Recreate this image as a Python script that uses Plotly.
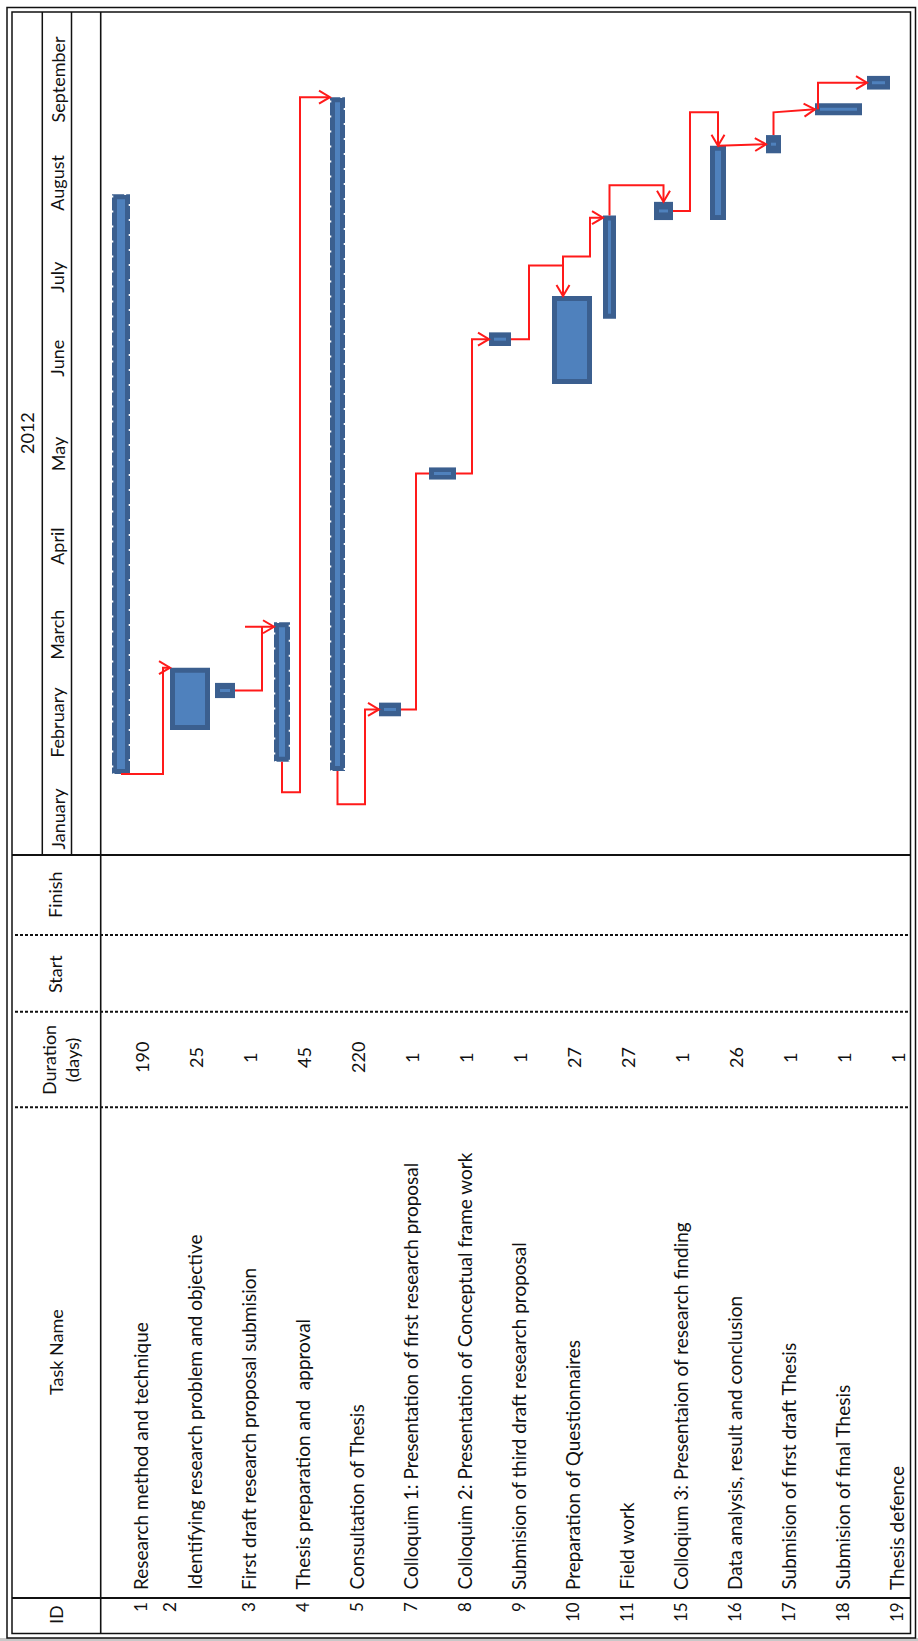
import plotly.graph_objects as go

# ------------------------------------------------------------------ data
task_ids = ["1", "2", "3", "4", "5", "7", "8", "9", "10", "11", "15", "16", "17", "18", "19"]
task_names = [
    "Research method and technique",
    "Identifying research problem and objective",
    "First draft research proposal submision",
    "Thesis preparation and  approval",
    "Consultation of Thesis",
    "Colloquim 1: Presentation of first research proposal",
    "Colloquim 2: Presentation of Conceptual frame work",
    "Submision of third draft research proposal",
    "Preparation of Questionnaires",
    "Field work",
    "Colloqium 3: Presentaion of research finding",
    "Data analysis, result and conclusion",
    "Submision of first draft Thesis",
    "Submision of final Thesis",
    "Thesis defence",
]
durations = [190, 25, 1, 45, 220, 1, 1, 1, 27, 27, 1, 26, 1, 1, 1]
# day of year 2012 (as drawn)
start_day = [30, 44.5, 55, 34, 31, 49, 127, 171, 158.5, 180, 212.5, 212.5, 234.5, 247, 255.5]
end_day = [221, 65, 60, 80, 253, 53.5, 131, 175.5, 187.5, 214, 218.5, 237, 240.5, 251, 260]

year_label = "2012"
month_names = ["January", "February", "March", "April", "May", "June", "July", "August", "September"]
month_mid_day = [15.5, 47, 76, 105, 135.5, 167, 194, 225, 259]

header_labels = ["Finish", "Start", "Duration<br>(days)", "Task Name", "ID"]

# ------------------------------------------------------------------ style / layout
W, H = 918, 1641
ROW0, ROWP = 140.0, 54.0          # pixel x of first row, row pitch
DAY0, PXD = 865.0, 3.035          # pixel y of day 0, pixels per day
bar_w_px = [18, 40, 20, 16, 15, 22, 27, 22, 40, 13, 19, 16, 15, 47, 23]
bar_off_px = [-19, -4, -23, -20, -18.5, -20, -21.5, -18, 0, -16.5, -16.5, -16, -14.5, -3.5, -17.5]
DARK = "#3B5F8F"
LIGHT = "#4F81BD"
RED = "#FF1A1A"
FONT = "Lato"
TXT = "#111111"


def ux(px):
    return (px - ROW0) / ROWP


def px_of_day(d):
    return DAY0 - PXD * d


def py(p):  # pixel y -> paper
    return 1 - p / H


def pxp(p):  # pixel x -> paper
    return p / W


n = len(task_ids)
C = [ROW0 + ROWP * i + bar_off_px[i] for i in range(n)]
L = [C[i] - bar_w_px[i] / 2 for i in range(n)]
R = [C[i] + bar_w_px[i] / 2 for i in range(n)]
S = start_day
E = end_day
M = [(S[i] + E[i]) / 2 for i in range(n)]

fig = go.Figure()
shapes = []

# ------------------------------------------------------------------ table frame
def pline(x0, y0, x1, y1, width=1.5, dash=None, color="#111111"):
    d = dict(type="line", xref="paper", yref="paper",
             x0=pxp(x0), y0=py(y0), x1=pxp(x1), y1=py(y1),
             line=dict(color=color, width=width), layer="above")
    if dash:
        d["line"]["dash"] = dash
    shapes.append(d)


shapes.append(dict(type="rect", xref="paper", yref="paper", x0=0, x1=1,
                   y0=py(1641), y1=py(1638), fillcolor="#c8c8c8", line=dict(width=0), layer="below"))
for (a, b, c, d) in [(7, 7.5, 915.5, 1638), (12, 12, 910.5, 1633.5)]:
    shapes.append(dict(type="rect", xref="paper", yref="paper",
                       x0=pxp(a), y0=py(d), x1=pxp(c), y1=py(b),
                       line=dict(color="#111111", width=1.5), layer="above"))
pline(42.3, 12, 42.3, 855)
pline(71.5, 12, 71.5, 855)
pline(100.7, 12, 100.7, 1633.5, width=1.6)
pline(12, 855, 910.5, 855, width=1.8)
pline(12, 1598, 910.5, 1598, width=2)
for yy in [935, 1011.7, 1107.3]:
    pline(15, yy, 910, yy, width=2, dash="3px,2px")

# ------------------------------------------------------------------ bars
for i in range(n):
    w = bar_w_px[i]
    hpx = (E[i] - S[i]) * PXD
    shapes.append(dict(type="rect", xref="x", yref="y",
                       x0=ux(L[i]), x1=ux(R[i]), y0=S[i], y1=E[i],
                       fillcolor=DARK, line=dict(width=0), layer="below"))
    ix = 5 if w > 12 else 4
    iy = 5 if hpx > 40 else (hpx - 3) / 2
    iy_d = iy / PXD
    shapes.append(dict(type="rect", xref="x", yref="y",
                       x0=ux(L[i] + ix), x1=ux(R[i] - ix),
                       y0=S[i] + iy_d, y1=E[i] - iy_d,
                       fillcolor=LIGHT, line=dict(width=0), layer="below"))
    if hpx > 100 and w < 20 and i not in (9, 11):
        shapes.append(dict(type="rect", xref="x", yref="y",
                           x0=ux(L[i] + 0.5), x1=ux(R[i] - 0.5), y0=S[i], y1=E[i],
                           fillcolor="rgba(0,0,0,0)",
                           line=dict(color="white", width=1.6, dash="2px,13px"), layer="below"))

# ------------------------------------------------------------------ connectors (pixel x, day y)
routes = [
    ([(C[0], S[0]), (L[1] - 7, S[0]), (L[1] - 7, E[1]), (L[1], E[1])], True),
    ([(R[2], M[2]), (L[3] - 12, M[2]), (L[3] - 12, E[3] - 1.5)], False),
    ([(L[3] - 29, E[3] - 1.5), (L[3], E[3] - 1.5)], True),
    ([(C[3], S[3]), (C[3], S[3] - 10), (L[4] - 30, S[3] - 10), (L[4] - 30, E[4]), (L[4], E[4])], True),
    ([(C[4], S[4]), (C[4], S[4] - 11), (L[5] - 14, S[4] - 11), (L[5] - 14, M[5]), (L[5], M[5])], True),
    ([(R[5], M[5]), (L[6] - 13, M[5]), (L[6] - 13, M[6]), (L[6], M[6])], False),
    ([(R[6], M[6]), (L[7] - 17, M[6]), (L[7] - 17, M[7]), (L[7], M[7])], True),
    ([(R[7], M[7]), (R[7] + 18, M[7]), (R[7] + 18, E[8] + 10), (L[8] + 11, E[8] + 10), (L[8] + 11, E[8])], True),
    ([(L[8] + 11, E[8] + 10), (L[8] + 11, E[8] + 13), (L[9] - 13, E[8] + 13), (L[9] - 13, E[9] - 0.7), (L[9], E[9] - 0.7)], True),
    ([(C[9], E[9]), (C[9], E[9] + 10), (C[10], E[9] + 10), (C[10], E[10])], True),
    ([(R[10], M[10]), (R[10] + 17, M[10]), (R[10] + 17, E[11] + 11), (C[11], E[11] + 11), (C[11], E[11])], True),
    ([(C[11], E[11]), (L[12], M[12])], True),
    ([(C[12], E[12]), (C[12], E[12] + 7.5), (L[13], M[13])], True),
    ([(L[13] + 3, M[13]), (L[13] + 3, M[14]), (L[14], M[14])], True),
]

lx, ly, ax, ay = [], [], [], []
for pts, arrow in routes:
    for (xp, d) in pts:
        lx.append(ux(xp))
        ly.append(d)
    lx.append(None)
    ly.append(None)
    if arrow:
        (x1p, d1), (x2p, d2) = pts[-2], pts[-1]
        p1 = (x1p, px_of_day(d1))
        p2 = (x2p, px_of_day(d2))
        vx, vy = p2[0] - p1[0], p2[1] - p1[1]
        ln = (vx * vx + vy * vy) ** 0.5
        vx, vy = vx / ln, vy / ln
        nx, ny = -vy, vx
        A, B = 11, 6.5
        w1 = (p2[0] - A * vx + B * nx, p2[1] - A * vy + B * ny)
        w2 = (p2[0] - A * vx - B * nx, p2[1] - A * vy - B * ny)
        for q in (w1, p2, w2):
            ax.append(ux(q[0]))
            ay.append((DAY0 - q[1]) / PXD)
        ax.append(None)
        ay.append(None)

fig.add_trace(go.Scatter(x=lx, y=ly, mode="lines", line=dict(color=RED, width=2),
                         hoverinfo="skip", showlegend=False))
fig.add_trace(go.Scatter(x=ax, y=ay, mode="lines", line=dict(color=RED, width=2),
                         hoverinfo="skip", showlegend=False))

# ------------------------------------------------------------------ texts
ann = []


def font(sz):
    return dict(family=FONT, size=sz, color=TXT)


ann.append(dict(text=year_label, xref="paper", yref="paper", x=pxp(27), y=py(433),
                xanchor="center", yanchor="middle",
                textangle=-90, showarrow=False, font=font(18)))
for name, d in zip(month_names, month_mid_day):
    ann.append(dict(text=name, xref="paper", yref="y", x=pxp(57.5), y=d, textangle=-90,
                    xanchor="center", yanchor="middle",
                    showarrow=False, font=font(18)))

hdr_pos = [(55, 895), (55, 974), (60, 1060), (56, 1352), (56, 1615)]
for t, (hx, hy) in zip(header_labels, hdr_pos):
    ann.append(dict(text=t, xref="paper", yref="paper", x=pxp(hx), y=py(hy), textangle=-90,
                    xanchor="center", yanchor="middle",
                    showarrow=False, align="center", font=font(18)))

for i in range(n):
    ann.append(dict(text=task_names[i], xref="x", yref="paper", x=i, y=py(1592),
                    xanchor="center", yanchor="bottom", textangle=-90, showarrow=False,
                    font=font(19)))
    ann.append(dict(text=str(durations[i]), xref="x", yref="paper", x=i + 2 / ROWP, y=py(1058),
                    xanchor="center", yanchor="middle",
                    textangle=-90, showarrow=False, font=font(18)))
    idx = i if i != 1 else ux(169)
    ann.append(dict(text=task_ids[i], xref="x", yref="paper", x=idx, y=py(1600),
                    xanchor="center", yanchor="top", textangle=-90, showarrow=False,
                    font=font(17)))

fig.update_layout(
    width=W, height=H, margin=dict(l=0, r=0, t=0, b=0),
    paper_bgcolor="white", plot_bgcolor="white",
    xaxis=dict(range=[ux(0), ux(W)], visible=False, fixedrange=True, domain=[0, 1]),
    yaxis=dict(range=[(DAY0 - H) / PXD, DAY0 / PXD], visible=False, fixedrange=True, domain=[0, 1]),
    shapes=shapes, annotations=ann, showlegend=False,
)

fig.write_html("out.html")
